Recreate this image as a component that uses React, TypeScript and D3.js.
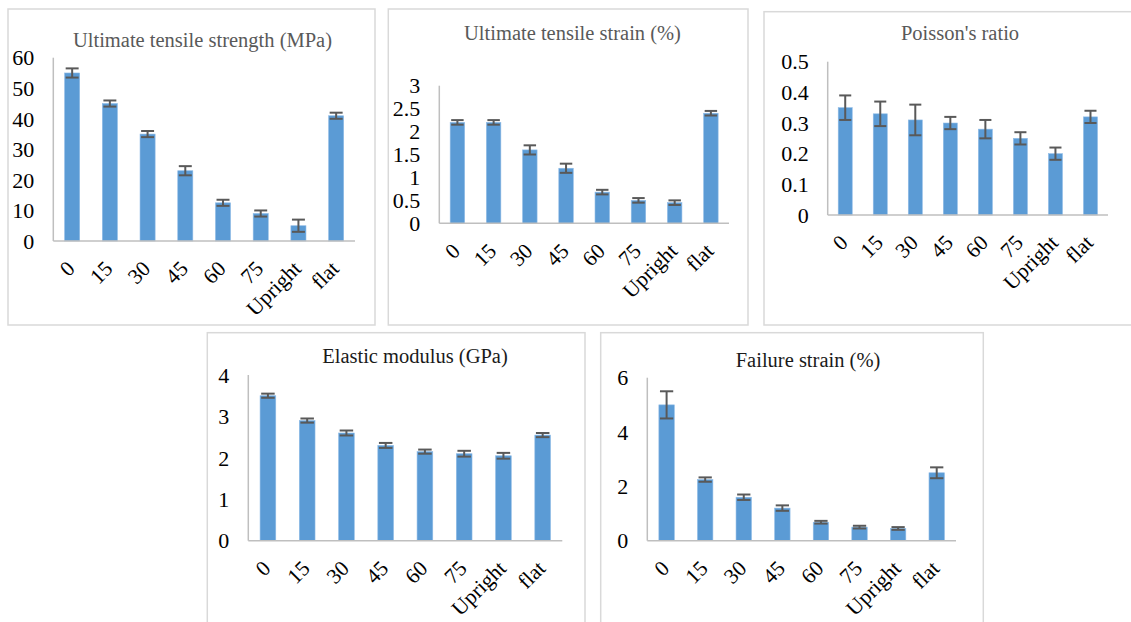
import React from "react";
import * as d3 from "d3";

const categories = ["0", "15", "30", "45", "60", "75", "Upright", "flat"];

const utsValues = [55, 45, 35, 23, 12.5, 9, 5, 41];
const utsErrors = [1.5, 1, 1, 1.5, 1, 1, 2, 1];
const utsTicks = [0, 10, 20, 30, 40, 50, 60];

const utStrainValues = [2.2, 2.2, 1.6, 1.2, 0.68, 0.5, 0.45, 2.4];
const utStrainErrors = [0.05, 0.05, 0.1, 0.1, 0.05, 0.05, 0.05, 0.05];
const utStrainTicks = [0, 0.5, 1, 1.5, 2, 2.5, 3];

const poissonValues = [0.35, 0.33, 0.31, 0.3, 0.28, 0.25, 0.2, 0.32];
const poissonErrors = [0.04, 0.04, 0.05, 0.02, 0.03, 0.02, 0.02, 0.02];
const poissonTicks = [0, 0.1, 0.2, 0.3, 0.4, 0.5];

const modulusValues = [3.5, 2.9, 2.6, 2.3, 2.15, 2.1, 2.05, 2.55];
const modulusErrors = [0.05, 0.05, 0.06, 0.06, 0.05, 0.07, 0.07, 0.05];
const modulusTicks = [0, 1, 2, 3, 4];

const failureValues = [5, 2.25, 1.6, 1.2, 0.68, 0.5, 0.45, 2.5];
const failureErrors = [0.5, 0.08, 0.1, 0.1, 0.05, 0.05, 0.05, 0.2];
const failureTicks = [0, 2, 4, 6];

const FONT = "'Liberation Serif', 'Times New Roman', serif";
const BAR = "#5b9bd5";
const ERR = "#595959";
const AXIS = "#bfbfbf";
const BORDER = "#d9d9d9";

type PanelProps = {
  title: string;
  titleColor: string;
  values: number[];
  errors: number[];
  ticks: number[];
  box: [number, number, number, number];
  plot: { left: number; right: number; top: number; bottom: number };
  titlePos: [number, number];
};

function Panel({ title, titleColor, values, errors, ticks, box, plot, titlePos }: PanelProps) {
  const x = d3
    .scaleBand<string>()
    .domain(categories)
    .range([plot.left, plot.right])
    .paddingInner(0.6)
    .paddingOuter(0.3);
  const y = d3
    .scaleLinear()
    .domain([0, ticks[ticks.length - 1]])
    .range([plot.bottom, plot.top]);
  const bw = x.bandwidth();
  const capHalf = bw * 0.43;
  return (
    <g>
      <rect
        x={box[0]}
        y={box[1]}
        width={box[2] - box[0]}
        height={box[3] - box[1]}
        fill="#fff"
        stroke={BORDER}
        strokeWidth={1.5}
      />
      <text
        x={titlePos[0]}
        y={titlePos[1]}
        textAnchor="middle"
        fontFamily={FONT}
        fontSize={20.5}
        fill={titleColor}
      >
        {title}
      </text>
      {ticks.map((t) => (
        <text
          key={t}
          x={plot.left - 19}
          y={y(t)}
          dy="0.35em"
          textAnchor="end"
          fontFamily={FONT}
          fontSize={22}
          fill="#000"
        >
          {String(t)}
        </text>
      ))}
      {categories.map((c, i) => {
        const x0 = x(c) as number;
        const cx = x0 + bw / 2;
        const v = values[i];
        const e = errors[i];
        return (
          <g key={c}>
            <rect
              x={x0}
              y={y(v)}
              width={bw}
              height={y(0) - y(v)}
              fill={BAR}
              stroke="#8fbbe6"
              strokeWidth={0.6}
            />
            <g stroke={ERR} strokeWidth={2} fill="none">
              <line x1={cx} x2={cx} y1={y(v + e)} y2={y(v - e)} />
              <line x1={cx - capHalf} x2={cx + capHalf} y1={y(v + e)} y2={y(v + e)} />
              <line x1={cx - capHalf} x2={cx + capHalf} y1={y(v - e)} y2={y(v - e)} />
            </g>
            <text
              transform={`translate(${cx + 4},${plot.bottom + 29}) rotate(-45)`}
              textAnchor="end"
              fontFamily={FONT}
              fontSize={21.5}
              fill="#000"
            >
              {c}
            </text>
          </g>
        );
      })}
      <line
        x1={plot.left}
        x2={plot.left}
        y1={plot.top}
        y2={plot.bottom}
        stroke={AXIS}
        strokeWidth={1.5}
      />
      <line
        x1={plot.left}
        x2={plot.right}
        y1={plot.bottom}
        y2={plot.bottom}
        stroke={AXIS}
        strokeWidth={1.5}
      />
    </g>
  );
}

export default function App() {
  return (
    <svg
      width={1131}
      height={622}
      style={{ position: "absolute", left: 0, top: 0, background: "#fff" }}
    >
      <rect x={0} y={0} width={1131} height={622} fill="#fff" />
      <Panel
        title="Ultimate tensile strength (MPa)"
        titleColor="#595959"
        values={utsValues}
        errors={utsErrors}
        ticks={utsTicks}
        box={[8, 9, 375, 325]}
        plot={{ left: 53.3, right: 355, top: 57.7, bottom: 241 }}
        titlePos={[202.5, 47]}
      />
      <Panel
        title="Ultimate tensile strain (%)"
        titleColor="#595959"
        values={utStrainValues}
        errors={utStrainErrors}
        ticks={utStrainTicks}
        box={[388.3, 9, 748, 325]}
        plot={{ left: 439.3, right: 729, top: 85.7, bottom: 223.3 }}
        titlePos={[572.5, 40]}
      />
      <Panel
        title="Poisson's ratio"
        titleColor="#595959"
        values={poissonValues}
        errors={poissonErrors}
        ticks={poissonTicks}
        box={[764, 11.7, 1145, 325]}
        plot={{ left: 827.7, right: 1108, top: 61.7, bottom: 215 }}
        titlePos={[960, 40]}
      />
      <Panel
        title="Elastic modulus (GPa)"
        titleColor="#1a1a1a"
        values={modulusValues}
        errors={modulusErrors}
        ticks={modulusTicks}
        box={[207.3, 332.7, 585, 640]}
        plot={{ left: 248.3, right: 562.3, top: 375, bottom: 540.7 }}
        titlePos={[415, 363]}
      />
      <Panel
        title="Failure strain (%)"
        titleColor="#1a1a1a"
        values={failureValues}
        errors={failureErrors}
        ticks={failureTicks}
        box={[600.7, 332.7, 983.3, 640]}
        plot={{ left: 647.3, right: 956, top: 377.7, bottom: 540.7 }}
        titlePos={[808, 367]}
      />
    </svg>
  );
}
